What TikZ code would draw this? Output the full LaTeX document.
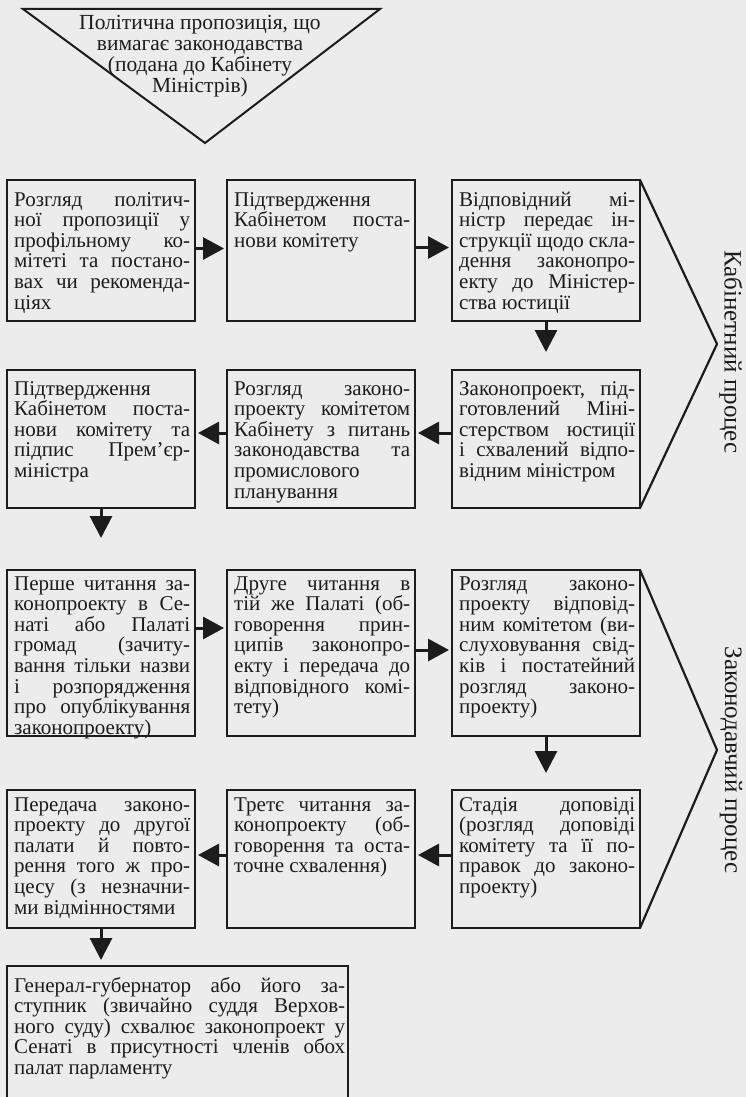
\documentclass[tikz,border=0pt]{standalone}
\usepackage{fontspec}
\setmainfont{Liberation Serif}
\usetikzlibrary{arrows.meta}
\definecolor{paper}{RGB}{236,236,236}
\definecolor{ink}{RGB}{28,28,28}
\newcommand{\bfs}{\fontsize{21}{20.6}\selectfont\lineskiplimit=-100pt\relax}
\newcommand{\jl}[1]{\makebox[\linewidth][s]{#1}\par}
\newcommand{\tb}[2]{\parbox[t]{#1}{\bfs #2}}
\tikzset{
  stage/.style={draw=ink, line width=2.6pt, outer sep=0pt, inner sep=0pt, anchor=north west, minimum width=188pt},
  btxt/.style={anchor=base west, inner sep=0pt, text=ink},
  harr/.style={draw=ink, line width=3pt, -{Triangle[length=21pt,width=22pt]}, shorten >=3pt},
  varr/.style={draw=ink, line width=3pt, -{Triangle[length=22pt,width=22pt]}},
  chev/.style={draw=ink, line width=2.2pt, line join=miter},
  lbl/.style={text=ink, inner sep=0pt, font=\fontsize{25}{27}\selectfont, rotate=-90},
}
\begin{document}
\begin{tikzpicture}[x=1pt,y=-1pt]
\fill[paper] (0,0) rectangle (746,1097);
\useasboundingbox (0,0) rectangle (746,1097);

% top triangle
\draw[chev, line width=2pt] (23,9) -- (380,9) -- (205,143) -- cycle;
\node[anchor=base, inner sep=0pt, text=ink] (prop) at (200,30)
  {\parbox[t]{340pt}{\centering\fontsize{21.5}{21}\selectfont\lineskiplimit=-100pt Політична пропозиція, що\\вимагає законодавства\\(подана до Кабінету\\Міністрів)}};

% row 1
\node[stage, minimum height=141pt] (r1a) at (7,180) {};
\node[stage, minimum height=141pt] (r1b) at (227,180) {};
\node[stage, minimum height=141pt] (r1c) at (452,180) {};
\node[btxt] at ([xshift=7pt,yshift=-26pt]r1a.north west) {\tb{176pt}{\jl{Розгляд політич-}\jl{ної пропозиції у}\jl{профільному ко-}\jl{мітеті та постано-}\jl{вах чи рекоменда-}ціях}};
\node[btxt] at ([xshift=7pt,yshift=-26pt]r1b.north west) {\tb{176pt}{Підтвердження\par\jl{Кабінетом поста-}нови комітету}};
\node[btxt] at ([xshift=7pt,yshift=-26pt]r1c.north west) {\tb{176pt}{\jl{Відповідний мі-}\jl{ністр передає ін-}\jl{струкції щодо скла-}\jl{дення законопро-}\jl{екту до Міністер-}ства юстиції}};

% row 2
\node[stage, minimum height=138pt] (r2a) at (7,370) {};
\node[stage, minimum height=138pt] (r2b) at (227,370) {};
\node[stage, minimum height=138pt] (r2c) at (452,370) {};
\node[btxt] at ([xshift=7pt,yshift=-25pt]r2a.north west) {\tb{176pt}{Підтвердження\par\jl{Кабінетом поста-}\jl{нови комітету та}\jl{підпис Прем’єр-}міністра}};
\node[btxt] at ([xshift=7pt,yshift=-25pt]r2b.north west) {\tb{176pt}{\jl{Розгляд законо-}\jl{проекту комітетом}\jl{Кабінету з питань}\jl{законодавства та}промислового\par планування}};
\node[btxt] at ([xshift=7pt,yshift=-25pt]r2c.north west) {\tb{176pt}{\jl{Законопроект, під-}\jl{готовлений Міні-}\jl{стерством юстиції}\jl{і схвалений відпо-}відним міністром}};

% row 3
\node[stage, minimum height=166pt] (r3a) at (7,570) {};
\node[stage, minimum height=166pt] (r3b) at (227,570) {};
\node[stage, minimum height=166pt] (r3c) at (452,570) {};
\node[btxt] at ([xshift=7pt,yshift=-20pt]r3a.north west) {\tb{176pt}{\jl{Перше читання за-}\jl{конопроекту в Се-}\jl{наті або Палаті}\jl{громад (зачиту-}\jl{вання тільки назви}\jl{і розпорядження}\jl{про опублікування}законопроекту)}};
\node[btxt] at ([xshift=7pt,yshift=-20pt]r3b.north west) {\tb{176pt}{\jl{Друге читання в}\jl{тій же Палаті (об-}\jl{говорення прин-}\jl{ципів законопро-}\jl{екту і передача до}\jl{відповідного комі-}тету)}};
\node[btxt] at ([xshift=7pt,yshift=-20pt]r3c.north west) {\tb{176pt}{\jl{Розгляд законо-}\jl{проекту відповід-}\jl{ним комітетом (ви-}\jl{слуховування свід-}\jl{ків і постатейний}\jl{розгляд законо-}проекту)}};

% row 4
\node[stage, minimum height=138pt] (r4a) at (7,790) {};
\node[stage, minimum height=138pt] (r4b) at (227,790) {};
\node[stage, minimum height=138pt] (r4c) at (452,790) {};
\node[btxt] at ([xshift=7pt,yshift=-21pt]r4a.north west) {\tb{176pt}{\jl{Передача законо-}\jl{проекту до другої}\jl{палати й повто-}\jl{рення того ж про-}\jl{цесу (з незначни-}ми відмінностями}};
\node[btxt] at ([xshift=7pt,yshift=-21pt]r4b.north west) {\tb{176pt}{\jl{Третє читання за-}\jl{конопроекту (об-}\jl{говорення та оста-}точне схвалення)}};
\node[btxt] at ([xshift=7pt,yshift=-21pt]r4c.north west) {\tb{176pt}{\jl{Стадія доповіді}\jl{(розгляд доповіді}\jl{комітету та її по-}\jl{правок до законо-}проекту)}};

% final box (its bottom runs off the page)
\node[stage, minimum width=341pt, minimum height=150pt] (fin) at (7,966) {};
\node[btxt] at ([xshift=7pt,yshift=-26pt]fin.north west) {\tb{331pt}{\jl{Генерал-губернатор або його за-}\jl{ступник (звичайно суддя Верхов-}\jl{ного суду) схвалює законопроект у}\jl{Сенаті в присутності членів обох}палат парламенту}};

% connectors
\draw[harr] ([yshift=2pt]r1a.east) -- ([yshift=2pt]r1b.west);
\draw[harr] ([yshift=3pt]r1b.east) -- ([yshift=3pt]r1c.west);
\draw[varr, shorten >=18pt] (r1c.south) -- (r2c.north);
\draw[harr] ([yshift=6pt]r2c.west) -- ([yshift=6pt]r2b.east);
\draw[harr] ([yshift=6pt]r2b.west) -- ([yshift=6pt]r2a.east);
\draw[varr, shorten >=32pt] (r2a.south) -- (r3a.north);
\draw[harr] ([yshift=25pt]r3a.east) -- ([yshift=25pt]r3b.west);
\draw[harr] ([yshift=3pt]r3b.east) -- ([yshift=3pt]r3c.west);
\draw[varr, shorten >=17pt] (r3c.south) -- (r4c.north);
\draw[harr] ([yshift=4pt]r4c.west) -- ([yshift=4pt]r4b.east);
\draw[harr] ([yshift=4pt]r4b.west) -- ([yshift=4pt]r4a.east);
\draw[varr, shorten >=6pt] (r4a.south) -- (fin.north -| r4a.south);

% chevrons and their labels
\coordinate (tip1) at (717,344);
\coordinate (tip2) at (717,750);
\draw[chev] (r1c.north east) -- (tip1) -- (r2c.south east);
\draw[chev] (r3c.north east) -- (tip2) -- (r4c.south east);
\node[lbl] (lab1) at (731,352) {Кабінетний процес};
\node[lbl] (lab2) at (731,760) {Законодавчий процес};
\end{tikzpicture}
\end{document}
